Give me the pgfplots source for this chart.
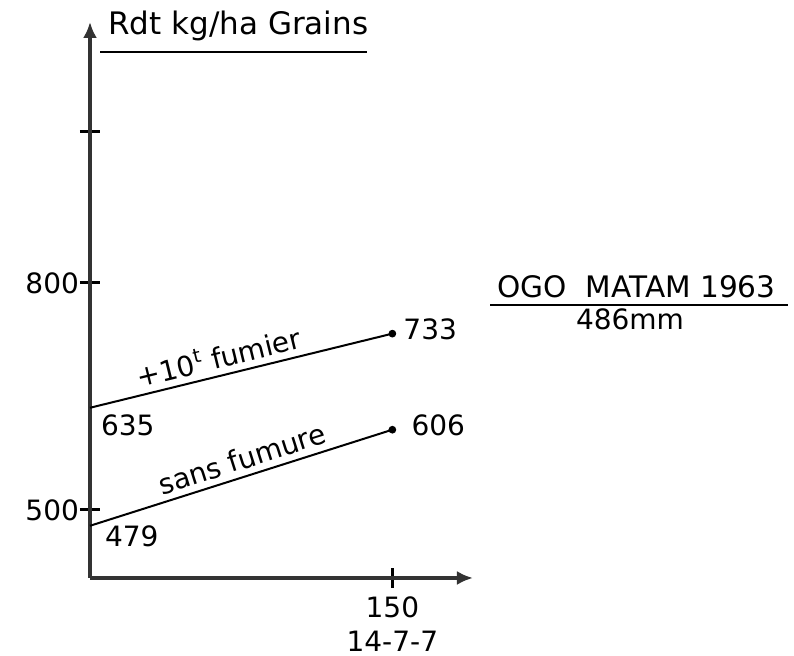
\documentclass[border=0pt]{standalone}
\usepackage{pgfplots}
\pgfplotsset{compat=1.18}
\usetikzlibrary{arrows.meta}
\usepackage{fontspec}
\setmainfont{DejaVu Sans}
\begin{document}
\begin{tikzpicture}[font=\fontsize{14}{16}\selectfont]
\path[use as bounding box] (0,0) rectangle (397pt,328pt);
\begin{axis}[
  at={(45pt,39pt)}, anchor=south west,
  scale only axis, width=191.5pt, height=278pt,
  xmin=0, xmax=190, ymin=410, ymax=1145,
  axis lines=left,
  axis line style={line width=2pt, black!80, -{Latex[length=8pt,width=7pt]}},
  xtick={150}, xticklabels={{150\\[1pt]14-7-7}},
  xticklabel style={align=center, yshift=-1pt, font=\fontsize{14}{16}\selectfont},
  ytick={500,800,1000}, yticklabels={500,800,{}},
  yticklabel style={xshift=3pt, font=\fontsize{14}{16}\selectfont},
  tick align=center, major tick length=10pt,
  tick style={line width=1.5pt, black},
  clip=false,
]
\addplot[black, line width=1pt, mark=*, mark indices={2}, mark size=1.4pt]
  coordinates {(0,635) (150,733)}
  node[pos=0.44, sloped, above, inner sep=3pt] {+10\textsuperscript{t} fumier};
\addplot[black, line width=1pt, mark=*, mark indices={2}, mark size=1.4pt]
  coordinates {(0,479) (150,606)}
  node[pos=0.52, sloped, above, inner sep=3pt] {sans fumure};
\node[anchor=base west] at (axis cs:2,598) {635};
\node[anchor=base west] at (axis cs:4,452) {479};
\node[anchor=base west] at (axis cs:152,725) {733};
\node[anchor=base west] at (axis cs:156,599) {606};
\end{axis}
\node[anchor=base west, inner sep=0pt, font=\fontsize{15.5}{18}\selectfont] at (54pt,310.5pt) {Rdt kg/ha Grains};
\draw[line width=1.2pt] (50pt,302pt) -- (183.5pt,302pt);
\node[anchor=base west, inner sep=0pt, font=\fontsize{14.8}{17}\selectfont] at (248.5pt,179pt) {OGO\ \ MATAM 1963};
\draw[line width=1.2pt] (245pt,175.5pt) -- (394pt,175.5pt);
\node[anchor=base, inner sep=0pt] at (315pt,163pt) {486mm};
\end{tikzpicture}
\end{document}
